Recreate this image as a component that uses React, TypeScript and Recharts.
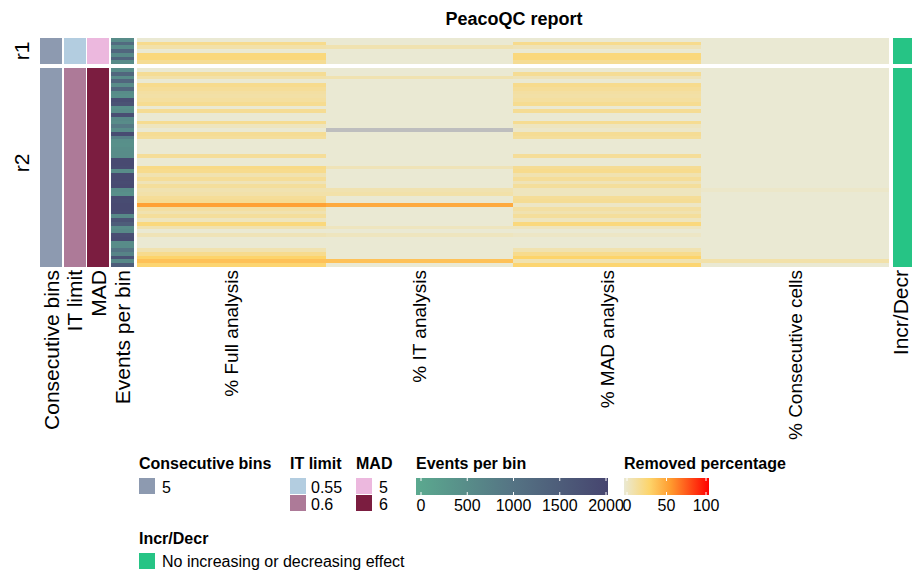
import { Bar, BarChart, Cell, XAxis, YAxis } from "recharts";

const FONT = "'Liberation Sans', Arial, Helvetica, sans-serif";

// --- data ---------------------------------------------------------------
const GROUPS = ["r1", "r2"];
const CONSEC_BINS = ["5", "5"];
const IT_LIMIT = ["0.55", "0.6"];
const MAD_PARAM = ["5", "6"];

const R1_EVENTS = [550, 1200, 550, 1300, 600, 1350, 550];
const R1_FULL = [0, 20, 12, 0, 25, 25, 18];
const R1_IT: (number | null)[] = [0, 0, 10, 0, 0, 0, 0];
const R1_MAD = [0, 20, 8, 0, 25, 25, 18];
const R1_CONSEC = [0, 0, 0, 0, 0, 0, 0];

const R2_EVENTS = [
  550, 1300, 550, 1300, 550, 1300, 550, 500, 1800, 1700,
  500, 550, 1800, 600, 550, 900, 550, 1850, 800, 500,
  480, 520, 550, 550, 1900, 1900, 1850, 550, 1900, 1900,
  1850, 1900, 550, 500, 1900, 1850, 1900, 1900, 1850, 600,
  1700, 1500, 550, 600, 1800, 1850, 550, 550, 1000, 700,
  1700, 600, 1500,
];
const R2_FULL = [
  0, 18, 12, 0, 20, 17, 14, 13, 15, 19,
  0, 18, 0, 0, 19, 6, 0, 18, 16, 0,
  0, 0, 0, 17, 0, 0, 22, 20, 10, 17,
  8, 16, 10, 12, 17, 18, 52, 14, 10, 16,
  6, 25, 10, 0, 8, 0, 0, 0, 10, 20,
  30, 38, 28,
];
const R2_IT: (number | null)[] = [
  0, 0, 10, 0, 0, 0, 0, 0, 0, 0,
  0, 0, 0, 0, 0, 0, null, 0, 0, 0,
  0, 0, 0, 0, 0, 0, 8, 0, 0, 0,
  0, 0, 10, 12, 0, 0, 48, 0, 0, 0,
  0, 0, 6, 0, 6, 0, 0, 0, 0, 0,
  0, 38, 0,
];
const R2_MAD = [
  0, 18, 8, 0, 20, 17, 14, 13, 15, 19,
  0, 18, 0, 0, 19, 6, 3, 18, 16, 0,
  0, 0, 0, 17, 0, 0, 18, 20, 10, 17,
  8, 16, 6, 6, 17, 18, 4, 14, 10, 16,
  6, 25, 6, 0, 4, 0, 0, 0, 10, 20,
  30, 10, 28,
];
const R2_CONSEC = [
  0, 0, 0, 0, 0, 0, 0, 0, 0, 0,
  0, 0, 0, 0, 0, 0, 0, 0, 0, 0,
  0, 0, 0, 0, 0, 0, 0, 0, 0, 0,
  0, 0, 3, 0, 0, 0, 0, 0, 0, 0,
  0, 0, 0, 0, 0, 0, 0, 0, 0, 0,
  0, 12, 0,
];

const EVENT_TICKS = [0, 500, 1000, 1500, 2000];
const PCT_TICKS = [0, 50, 100];
const INCR_LABEL = "No increasing or decreasing effect";

// --- colours --------------------------------------------------------------
const EVENT_STOPS: [number, string][] = [
  [0, "#5ba98f"],
  [1000, "#557484"],
  [2000, "#46456f"],
];
const PCT_STOPS: [number, string][] = [
  [0, "#eae9d3"],
  [30, "#fdd46a"],
  [55, "#ff9a2e"],
  [100, "#ff0000"],
];
const NA_COLOR = "#bebebe";
const BINS_COLOR = "#8d9ab0";
const IT_COLORS: Record<string, string> = { "0.55": "#b3cde0", "0.6": "#ad7a98" };
const MAD_COLORS: Record<string, string> = { "5": "#ecb8de", "6": "#7b1d40" };
const INCR_COLOR = "#26c485";

function hex(c: string) {
  return [1, 3, 5].map((i) => parseInt(c.slice(i, i + 2), 16));
}
function ramp(stops: [number, string][], v: number | null) {
  if (v == null) return NA_COLOR;
  if (v <= stops[0][0]) return stops[0][1];
  for (let i = 1; i < stops.length; i++) {
    const [v1, c1] = stops[i];
    const [v0, c0] = stops[i - 1];
    if (v <= v1) {
      const t = (v - v0) / (v1 - v0);
      const a = hex(c0);
      const b = hex(c1);
      const m = a.map((x, j) => Math.round(x + (b[j] - x) * t));
      return `rgb(${m.join(",")})`;
    }
  }
  return stops[stops.length - 1][1];
}

type Row = {
  id: string;
  bins: string;
  it: string;
  mad: string;
  events: number;
  pFull: number;
  pIT: number | null;
  pMAD: number;
  pConsec: number;
};

function buildRows(g: number, ev: number[], full: number[], it: (number | null)[], mad: number[], con: number[]): Row[] {
  return ev.map((e, i) => ({
    id: `${GROUPS[g]}-${i}`,
    bins: CONSEC_BINS[g],
    it: IT_LIMIT[g],
    mad: MAD_PARAM[g],
    events: e,
    pFull: full[i],
    pIT: it[i],
    pMAD: mad[i],
    pConsec: con[i],
  }));
}

const ROWS_R1 = buildRows(0, R1_EVENTS, R1_FULL, R1_IT, R1_MAD, R1_CONSEC);
const ROWS_R2 = buildRows(1, R2_EVENTS, R2_FULL, R2_IT, R2_MAD, R2_CONSEC);

// --- column layout (px widths on a 912 wide x domain) ---------------------
type Col = { key: string; width: number; label?: string; big?: boolean; nudge?: number; color?: (r: Row) => string };
const COLS: Col[] = [
  { key: "lead", width: 40 },
  { key: "bins", width: 22, label: "Consecutive bins", big: true, color: () => BINS_COLOR },
  { key: "g1", width: 1.5 },
  { key: "it", width: 22, label: "IT limit", big: true, color: (r) => IT_COLORS[r.it] },
  { key: "g2", width: 1.5 },
  { key: "mad", width: 22, label: "MAD", big: true, color: (r) => MAD_COLORS[r.mad] },
  { key: "g3", width: 2 },
  { key: "events", width: 23, label: "Events per bin", big: true, color: (r) => ramp(EVENT_STOPS, r.events) },
  { key: "g4", width: 3 },
  { key: "pFull", width: 189, label: "% Full analysis", color: (r) => ramp(PCT_STOPS, r.pFull) },
  { key: "pIT", width: 187, label: "% IT analysis", color: (r) => ramp(PCT_STOPS, r.pIT) },
  { key: "pMAD", width: 188, label: "% MAD analysis", color: (r) => ramp(PCT_STOPS, r.pMAD) },
  { key: "pConsec", width: 188, label: "% Consecutive cells", color: (r) => ramp(PCT_STOPS, r.pConsec) },
  { key: "g5", width: 4 },
  { key: "incr", width: 19, label: "Incr/Decr", big: true, nudge: -2, color: () => INCR_COLOR },
];
const TOTAL = COLS.reduce((s, c) => s + c.width, 0);

const TICKS: number[] = [];
const TICK_NAMES: Record<string, { label: string; big?: boolean; nudge?: number }> = {};
{
  let acc = 0;
  for (const c of COLS) {
    if (c.label) {
      const mid = acc + c.width / 2;
      TICKS.push(mid);
      TICK_NAMES[String(mid)] = { label: c.label, big: c.big, nudge: c.nudge };
    }
    acc += c.width;
  }
}

function widthRow(r: Row) {
  const o: Record<string, unknown> = { ...r };
  COLS.forEach((c) => (o["w_" + c.key] = c.width));
  return o;
}

function ColumnTick(props: { x?: number; y?: number; payload?: { value: number } }) {
  const info = TICK_NAMES[String(props.payload?.value)];
  if (!info) return null;
  const x = Number(props.x ?? 0) + (info.nudge ?? 0);
  const y = Number(props.y ?? 0);
  return (
    <text
      x={x}
      y={y}
      dy="0.36em"
      transform={`rotate(-90, ${x}, ${y})`}
      textAnchor="end"
      fontSize={info.big ? 21 : 19}
      fontFamily={FONT}
      fill="#000"
    >
      {info.label}
    </text>
  );
}

function Heat({ rows, height, axis }: { rows: Row[]; height: number; axis?: boolean }) {
  const data = rows.map(widthRow);
  return (
    <BarChart
      width={912}
      height={height}
      data={data}
      layout="vertical"
      margin={{ top: 0, right: 0, bottom: 0, left: 0 }}
      barCategoryGap={0}
      barGap={0}
    >
      <XAxis
        type="number"
        domain={[0, TOTAL]}
        hide={!axis}
        ticks={TICKS}
        interval={0}
        tickSize={0}
        tickMargin={3}
        axisLine={false}
        tickLine={false}
        height={185}
        tick={<ColumnTick />}
      />
      <YAxis type="category" dataKey="id" hide />
      {COLS.map((c) => (
        <Bar
          key={c.key}
          dataKey={"w_" + c.key}
          stackId="s"
          isAnimationActive={false}
          fill="none"
          stroke="none"
        >
          {c.color &&
            rows.map((r) => <Cell key={r.id} fill={c.color!(r)} shapeRendering="crispEdges" />)}
        </Bar>
      ))}
    </BarChart>
  );
}

function Legends() {
  const evX = (v: number) => 421 + (v / 2000) * 185;
  const pcX = (v: number) => 627 + (v / 100) * 79;
  const t = { fontFamily: FONT, fontSize: 16, fill: "#000" };
  const b = { ...t, fontWeight: 700 };
  return (
    <svg width={912} height={571} style={{ position: "absolute", left: 0, top: 0, pointerEvents: "none" }}>
      <defs>
        <linearGradient id="evGrad" x1="0" x2="1" y1="0" y2="0">
          {EVENT_STOPS.map(([v, c]) => (
            <stop key={v} offset={`${(v / 2000) * 100}%`} stopColor={c} />
          ))}
        </linearGradient>
        <linearGradient id="pcGrad" x1="0" x2="1" y1="0" y2="0">
          {PCT_STOPS.map(([v, c]) => (
            <stop key={v} offset={`${v}%`} stopColor={c} />
          ))}
        </linearGradient>
      </defs>
      <text x={514} y={25} textAnchor="middle" {...b} fontSize={18}>
        PeacoQC report
      </text>
      <text x={21} y={51} dy="0.36em" textAnchor="middle" transform="rotate(-90, 21, 51)" {...t} fontSize={21}>
        {GROUPS[0]}
      </text>
      <text x={21} y={163} dy="0.36em" textAnchor="middle" transform="rotate(-90, 21, 163)" {...t} fontSize={21}>
        {GROUPS[1]}
      </text>

      <text x={139} y={469} {...b}>Consecutive bins</text>
      <rect x={139} y={478} width={16} height={16} fill={BINS_COLOR} />
      <text x={162} y={493} {...t}>{CONSEC_BINS[0]}</text>

      <text x={290} y={469} {...b}>IT limit</text>
      {IT_LIMIT.map((v, i) => (
        <g key={v}>
          <rect x={290} y={478 + i * 17} width={16} height={16} fill={IT_COLORS[v]} />
          <text x={311} y={493 + i * 17} {...t}>{v}</text>
        </g>
      ))}

      <text x={356} y={469} {...b}>MAD</text>
      {MAD_PARAM.map((v, i) => (
        <g key={v}>
          <rect x={356} y={478 + i * 17} width={16} height={16} fill={MAD_COLORS[v]} />
          <text x={379} y={493 + i * 17} {...t}>{v}</text>
        </g>
      ))}

      <text x={416} y={469} {...b}>Events per bin</text>
      <rect x={416} y={478} width={192} height={17} fill="url(#evGrad)" />
      {EVENT_TICKS.map((v) => (
        <g key={v}>
          <line x1={evX(v)} x2={evX(v)} y1={478} y2={481} stroke="#fff" />
          <line x1={evX(v)} x2={evX(v)} y1={492} y2={495} stroke="#fff" />
          <text x={evX(v)} y={511} textAnchor="middle" {...t}>{v}</text>
        </g>
      ))}

      <text x={624} y={469} {...b}>Removed percentage</text>
      <rect x={624} y={478} width={85} height={17} fill="url(#pcGrad)" />
      {PCT_TICKS.map((v) => (
        <g key={v}>
          <line x1={pcX(v)} x2={pcX(v)} y1={478} y2={481} stroke="#fff" />
          <line x1={pcX(v)} x2={pcX(v)} y1={492} y2={495} stroke="#fff" />
          <text x={pcX(v)} y={511} textAnchor="middle" {...t}>{v}</text>
        </g>
      ))}

      <text x={139} y={544} {...b}>Incr/Decr</text>
      <rect x={139} y={553} width={16} height={16} fill={INCR_COLOR} />
      <text x={162} y={567} {...t}>{INCR_LABEL}</text>
    </svg>
  );
}

export default function App() {
  return (
    <div style={{ position: "absolute", left: 0, top: 0, width: 912, height: 571, background: "#fff", overflow: "hidden" }}>
      <div style={{ position: "absolute", left: 0, top: 38 }}>
        <Heat rows={ROWS_R1} height={26} />
      </div>
      <div style={{ position: "absolute", left: 0, top: 68 }}>
        <Heat rows={ROWS_R2} height={199 + 185} axis />
      </div>
      <Legends />
    </div>
  );
}
